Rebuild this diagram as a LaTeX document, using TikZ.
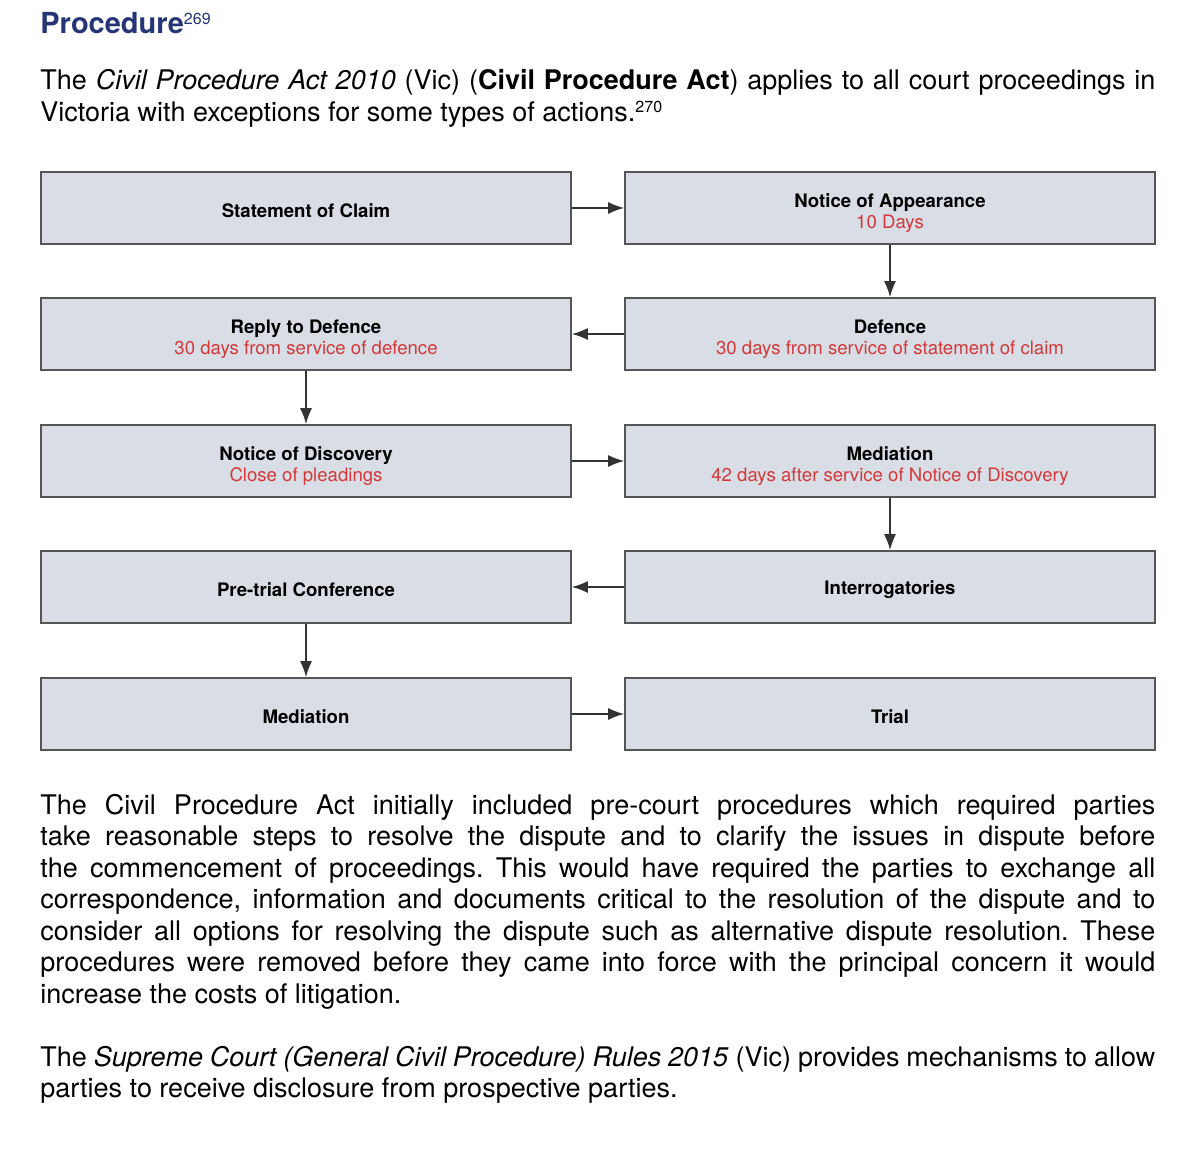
\documentclass[tikz,border=0pt]{standalone}
\usepackage{fontspec}
\setmainfont{TeX Gyre Heros}
\usepackage{xcolor}
\usepackage{tikz}
\usetikzlibrary{arrows.meta}

\definecolor{boxfill}{HTML}{D9DDE5}
\definecolor{boxline}{HTML}{555555}
\definecolor{daysred}{HTML}{D2393A}
\definecolor{headblue}{HTML}{253575}
\frenchspacing

\tikzset{
  stagebox/.style={draw=boxline, line width=0.9pt, fill=boxfill, minimum width=265pt, minimum height=36pt, inner sep=0pt, align=center, font=\fontsize{9.3}{10.5}\selectfont\bfseries},
  flow/.style={line width=0.65pt, draw=black!80, -{Latex[length=8pt,width=6pt]}},
  bodytext/.style={anchor=base west, inner sep=0pt, text width=557.5pt, align=justify, font=\fontsize{13.5}{15.75}\selectfont}
}
\newcommand{\stage}[1]{\rule{0pt}{9.5pt}#1}
\newcommand{\twoline}[2]{\rule{0pt}{12pt}#1\\[0pt]{\mdseries\color{daysred}#2}}
\newcommand{\noteref}[1]{\raisebox{4.6pt}{\fontsize{8}{8}\selectfont\mdseries #1}}

\begin{document}
\begin{tikzpicture}[x=0.5pt, y=-0.5pt]
\useasboundingbox (0,0) rectangle (1200,1149);

\node [anchor=base west, inner sep=0pt, text=headblue, font=\fontsize{14.5}{16}\selectfont\bfseries] (title) at (40,34) {Procedure\noteref{269}};

\node [bodytext] (intro) at (40,90) {The \textit{Civil Procedure Act 2010} (Vic) (\textbf{Civil Procedure Act}) applies to all court proceedings in\linebreak Victoria with exceptions for some types of actions.\noteref{270}};

% left column
\node [stagebox] (claim) at (306,208) {\stage{Statement of Claim}};
\node [stagebox] (reply) at (306,334) {\twoline{Reply to Defence}{30 days from service of defence}};
\node [stagebox] (discovery) at (306,461) {\twoline{Notice of Discovery}{Close of pleadings}};
\node [stagebox] (pretrial) at (306,587) {\stage{Pre-trial Conference}};
\node [stagebox] (mediation2) at (306,714) {\stage{Mediation}};

% right column
\node [stagebox] (appearance) at (890,208) {\twoline{Notice of Appearance}{10 Days}};
\node [stagebox] (defence) at (890,334) {\twoline{Defence}{30 days from service of statement of claim}};
\node [stagebox] (mediation1) at (890,461) {\twoline{Mediation}{42 days after service of Notice of Discovery}};
\node [stagebox] (interrog) at (890,587) {\stage{Interrogatories}};
\node [stagebox] (trial) at (890,714) {\stage{Trial}};

\draw[flow] (claim) to (appearance);
\draw[flow] (appearance) to (defence);
\draw[flow] (defence) to (reply);
\draw[flow] (reply) to (discovery);
\draw[flow] (discovery) to (mediation1);
\draw[flow] (mediation1) to (interrog);
\draw[flow] (interrog) to (pretrial);
\draw[flow] (pretrial) to (mediation2);
\draw[flow] (mediation2) to (trial);

\node [bodytext] (concern) at (40,814) {The Civil Procedure Act initially included pre-court procedures which required parties\linebreak take reasonable steps to resolve the dispute and to clarify the issues in dispute before\linebreak the commencement of proceedings. This would have required the parties to exchange all\linebreak correspondence, information and documents critical to the resolution of the dispute and to\linebreak consider all options for resolving the dispute such as alternative dispute resolution. These\linebreak procedures were removed before they came into force with the principal concern it would\linebreak increase the costs of litigation.};

\node [bodytext] (rules) at (40,1066) {The \textit{Supreme Court (General Civil Procedure) Rules 2015} (Vic) provides mechanisms to allow\linebreak parties to receive disclosure from prospective parties.};
\end{tikzpicture}
\end{document}
